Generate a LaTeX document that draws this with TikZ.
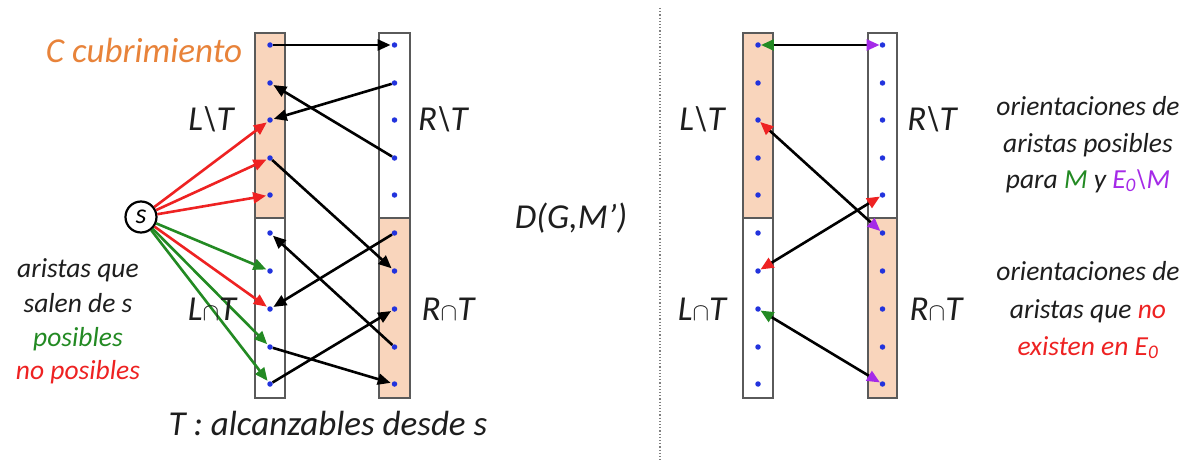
\documentclass[tikz,border=0pt]{standalone}
\usepackage{fontspec}
\setmainfont{Carlito}
\usetikzlibrary{arrows.meta}
\definecolor{peach}{HTML}{F9D5BC}
\definecolor{dotblue}{HTML}{2233DD}
\definecolor{mgreen}{HTML}{238A23}
\definecolor{mred}{HTML}{EE2222}
\definecolor{mpurple}{HTML}{A52AE8}
\definecolor{morange}{HTML}{E8833A}
\definecolor{txt}{HTML}{1E1E1E}
\definecolor{boxgray}{HTML}{5A5A5A}
\begin{document}
\begin{tikzpicture}[x=1pt,y=-1pt,
  dot/.style={circle,fill=dotblue,inner sep=0pt,minimum size=5.5pt},
  col/.style={draw=boxgray,line width=1.4pt},
  arr/.style={line width=2.6pt,-{Triangle[length=13pt,width=11pt]},shorten >=1pt},
  rarr/.style={arr,draw=mred},
  garr/.style={arr,draw=mgreen},
  big/.style={font=\fontsize{35}{40}\selectfont\itshape,text=txt,anchor=base},
  small/.style={font=\fontsize{27.5}{33}\selectfont\itshape,text=txt,anchor=base}
]
\useasboundingbox (0,0) rectangle (1189,460);
\fill[white] (0,0) rectangle (1189,460);

% ---------- left diagram columns ----------
\path[col,fill=peach] (255,33) rectangle (285,218);
\path[col,fill=white] (255,218) rectangle (285,398);
\path[col,fill=white] (379,33) rectangle (410,218);
\path[col,fill=peach] (379,218) rectangle (410,398);

% ---------- right diagram columns ----------
\path[col,fill=peach] (743,33) rectangle (773,218);
\path[col,fill=white] (743,218) rectangle (773,398);
\path[col,fill=white] (868,33) rectangle (897,218);
\path[col,fill=peach] (868,218) rectangle (897,398);

% ---------- dots ----------
\foreach \i/\y in {1/45,2/83,3/120,4/158,5/195,6/233,7/271,8/309,9/347,10/384}{
  \node[dot] (a\i) at (270,\y) {};
  \node[dot] (r\i) at (394.5,\y) {};
  \node[dot] (b\i) at (758,\y) {};
  \node[dot] (c\i) at (882.5,\y) {};
}

% ---------- source node ----------
\node[draw=black,circle,line width=2.2pt,minimum size=31pt,inner sep=0pt,fill=white,
      font=\fontsize{28}{30}\selectfont\itshape] (s) at (141,217) {s};

% ---------- arrows from s ----------
\draw[rarr] (s) -- (a3);
\draw[rarr] (s) -- (a4);
\draw[rarr] (s) -- (a5);
\draw[garr] (s) -- (a7);
\draw[rarr] (s) -- (a8);
\draw[garr] (s) -- (a9);
\draw[garr] (s) -- (a10);

% ---------- black arrows, left diagram ----------
\draw[arr] (a1) -- (r1);
\draw[arr] (r2) -- (a3);
\draw[arr] (r4) -- (a2);
\draw[arr] (a4) -- (r7);
\draw[arr] (r6) -- (a8);
\draw[arr] (r9) -- (a6);
\draw[arr] (a9) -- (r10);
\draw[arr] (a10) -- (r8);

% ---------- right diagram edges ----------
\tikzset{dbl/.style={line width=2.6pt}}
\draw[dbl,{Triangle[length=13pt,width=11pt,color=mgreen]}-{Triangle[length=13pt,width=11pt,color=mpurple]}] (b1) -- (c1);
\draw[dbl,{Triangle[length=13pt,width=11pt,color=mred]}-{Triangle[length=13pt,width=11pt,color=mpurple]}] (b3) -- (c6);
\draw[dbl,{Triangle[length=13pt,width=11pt,color=mred]}-{Triangle[length=13pt,width=11pt,color=mred]}] (b7) -- (c5);
\draw[dbl,{Triangle[length=13pt,width=11pt,color=mgreen]}-{Triangle[length=13pt,width=11pt,color=mpurple]}] (b8) -- (c10);

% ---------- separator ----------
\coordinate (sepTop) at (660,8);
\coordinate (sepBot) at (660,460);
\draw[dotted,line width=1.2pt,gray] (sepTop) -- (sepBot);

% ---------- labels left ----------
\node[big,text=morange] (cc) at (144,63) {C cubrimiento};
\node[big] (lt1) at (211,130) {L\textbackslash T};
\node[big] (rt1) at (443,130) {R\textbackslash T};
\node[big] (li1) at (212,320) {L$\cap$T};
\node[big] (ri1) at (448,320) {R$\cap$T};
\node[big] (tl) at (328,435) {T : alcanzables desde s};
\node[big] (dg) at (571,228) {D(G,M')};

\node[small] (t1) at (78,277) {aristas que};
\node[small] (t2) at (78,312) {salen de s};
\node[small,text=mgreen] (t3) at (78,346) {posibles};
\node[small,text=mred] (t4) at (78,379) {no posibles};

% ---------- labels right ----------
\node[big] (lt2) at (702,130) {L\textbackslash T};
\node[big] (rt2) at (932,130) {R\textbackslash T};
\node[big] (li2) at (702,320) {L$\cap$T};
\node[big] (ri2) at (936,320) {R$\cap$T};

\node[small] (u1) at (1088,115) {orientaciones de};
\node[small] (u2) at (1088,152) {aristas posibles};
\node[small] (u3) at (1088,188) {para {\color{mgreen}M} y {\color{mpurple}E\textsubscript{0}\textbackslash M}};
\node[small] (v1) at (1088,280) {orientaciones de};
\node[small] (v2) at (1088,318) {aristas que {\color{mred}no}};
\node[small,text=mred] (v3) at (1088,355) {existen en E\textsubscript{0}};
\end{tikzpicture}
\end{document}
